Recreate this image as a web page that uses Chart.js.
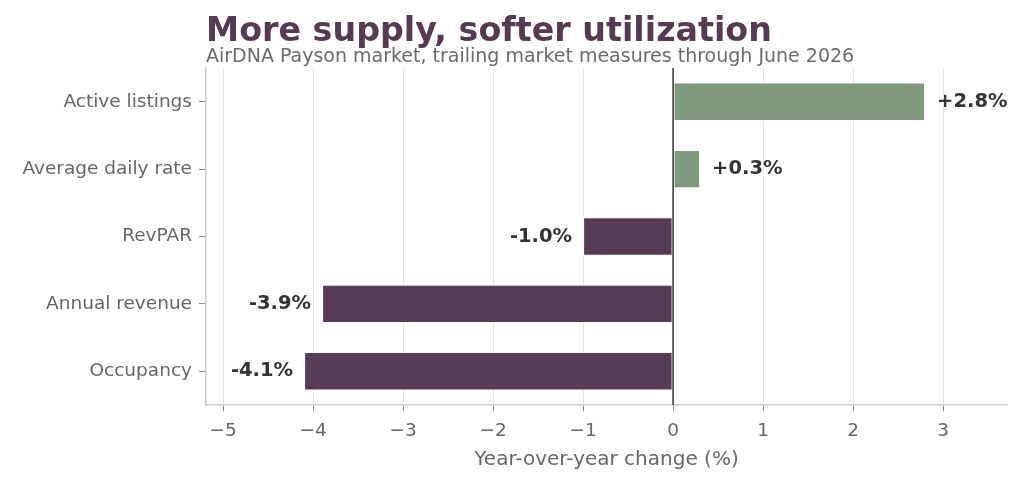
<!DOCTYPE html>
<html>
<head>
<meta charset="utf-8">
<script src="https://cdn.jsdelivr.net/npm/chart.js@4"></script>
<style>
  html, body { margin: 0; padding: 0; background: #ffffff; }
  #wrap { width: 1024px; height: 484px; position: relative; }
</style>
</head>
<body>
<div id="wrap"><canvas id="c" width="1024" height="484"></canvas></div>
<script>
const categories = ['Active listings', 'Average daily rate', 'RevPAR', 'Annual revenue', 'Occupancy'];
const changes = [2.8, 0.3, -1.0, -3.9, -4.1];
const valueLabels = ['+2.8%', '+0.3%', '-1.0%', '-3.9%', '-4.1%'];
const xTicks = [-5, -4, -3, -2, -1, 0, 1, 2, 3];
const titleText = 'More supply, softer utilization';
const subtitleText = 'AirDNA Payson market, trailing market measures through June 2026';
const xTitle = 'Year-over-year change (%)';

const POS = '#7f997c', NEG = '#573c55';
const FONT = "'DejaVu Sans', sans-serif";

const overlay = {
  id: 'overlay',
  afterDatasetsDraw(chart) {
    const ctx = chart.ctx;
    const ca = chart.chartArea;
    const xs = chart.scales.x;
    const x0 = xs.getPixelForValue(0);
    ctx.save();
    ctx.strokeStyle = '#333333';
    ctx.lineWidth = 1.5;
    ctx.beginPath();
    ctx.moveTo(x0, ca.top);
    ctx.lineTo(x0, ca.bottom);
    ctx.stroke();
    const meta = chart.getDatasetMeta(0);
    ctx.font = "bold 19.5px " + FONT;
    ctx.fillStyle = '#333333';
    ctx.textBaseline = 'middle';
    meta.data.forEach((bar, i) => {
      const v = changes[i];
      if (v >= 0) { ctx.textAlign = 'left'; ctx.fillText(valueLabels[i], bar.x + 12, bar.y); }
      else { ctx.textAlign = 'right'; ctx.fillText(valueLabels[i], bar.x - 11, bar.y); }
    });
    ctx.textAlign = 'left';
    ctx.textBaseline = 'alphabetic';
    ctx.fillStyle = '#553a52';
    ctx.font = "bold 33.3px " + FONT;
    ctx.fillText(titleText, ca.left, 41);
    ctx.fillStyle = '#6b6b6b';
    ctx.font = "19px " + FONT;
    ctx.fillText(subtitleText, ca.left, 62);
    ctx.restore();
  }
};

new Chart(document.getElementById('c'), {
  type: 'bar',
  data: {
    labels: categories,
    datasets: [{
      data: changes,
      backgroundColor: changes.map(v => v >= 0 ? POS : NEG),
      borderColor: '#ffffff',
      borderWidth: 1,
      borderSkipped: false,
      barPercentage: 0.57,
      categoryPercentage: 1.0
    }]
  },
  options: {
    indexAxis: 'y',
    responsive: false,
    animation: false,
    devicePixelRatio: 1,
    layout: { padding: { top: 68, right: 17, left: 0, bottom: 0 } },
    plugins: { legend: { display: false }, tooltip: { enabled: false }, title: { display: false } },
    scales: {
      x: {
        type: 'linear',
        min: -5.19,
        max: 3.71,
        afterBuildTicks(axis) { axis.ticks = xTicks.map(v => ({ value: v })); },
        afterFit(axis) { axis.height = 79; },
        ticks: {
          color: '#666666',
          font: { family: FONT, size: 18.5 },
          padding: 9,
          callback: v => (v < 0 ? '\u2212' + Math.abs(v) : String(v))
        },
        grid: {
          color: ctx => (ctx.tick && ctx.tick.value === 0) ? 'rgba(0,0,0,0)' : '#e3e3e3',
          lineWidth: 1,
          tickColor: '#888888',
          tickLength: 6,
          drawTicks: true
        },
        border: { display: true, color: '#cccccc', width: 1.5 },
        title: {
          display: true,
          text: xTitle,
          color: '#666666',
          font: { family: FONT, size: 20 },
          padding: { top: 4, bottom: 12 }
        }
      },
      y: {
        afterFit(axis) { axis.width = 206; },
        ticks: {
          color: '#666666',
          font: { family: FONT, size: 18.5 },
          padding: 7
        },
        grid: {
          offset: false,
          drawOnChartArea: false,
          drawTicks: true,
          tickColor: '#888888',
          tickLength: 7
        },
        border: { display: true, color: '#cccccc', width: 1.5 }
      }
    }
  },
  plugins: [overlay]
});
</script>
</body>
</html>
